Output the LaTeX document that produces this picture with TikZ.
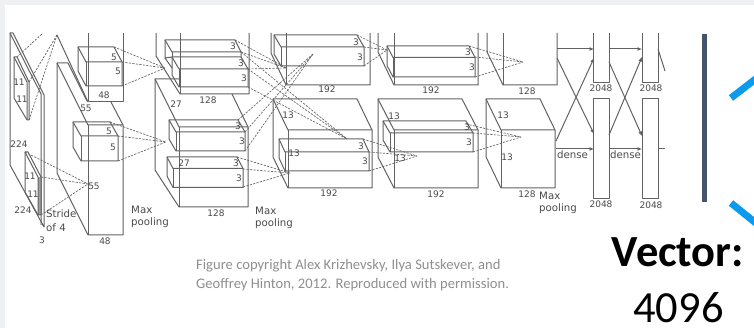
\documentclass[tikz,border=0pt]{standalone}
\usepackage{fontspec}
\setmainfont{Carlito}
\newfontfamily\labfont{DejaVu Sans}
\usetikzlibrary{arrows.meta}
\definecolor{edgegray}{HTML}{626262}
\definecolor{labgray}{HTML}{4A4A4A}
\definecolor{capgray}{HTML}{8F8F8F}
\definecolor{barnavy}{HTML}{44546A}
\definecolor{rayblue}{HTML}{0A9BEF}
\definecolor{pagegray}{HTML}{EEF0F2}
\tikzset{
  edge/.style={draw=edgegray,line width=1pt,line join=round},
  rays/.style={draw=edgegray,line width=0.65pt,dash pattern=on 2.2pt off 1.3pt},
  flow/.style={draw=edgegray,line width=1pt,-{Latex[length=4.5pt,width=4pt]}},
  lab/.style={font=\labfont\fontsize{9}{10}\selectfont,text=labgray,inner sep=0pt},
  word/.style={font=\labfont\fontsize{10.2}{12}\selectfont,text=labgray,inner sep=0pt,anchor=west},
  caption/.style={font=\fontsize{14.6}{16}\selectfont,text=capgray,inner sep=0pt,anchor=west}
}
% back top-left corner, depth offset, width, height
\newcommand{\cuboid}[6]{
  \draw[edge] (#1,#2) -- ++(#5,0) -- ++(#3,#4) -- ++(0,#6) -- ++(-#5,0) -- ++(-#3,-#4) -- cycle;
  \draw[edge] (#1,#2) -- ++(#3,#4) -- ++(#5,0);
  \draw[edge] (#1,#2) ++(#3,#4) -- ++(0,#6);
}
\begin{document}
\begin{tikzpicture}[x=1pt,y=-1pt]
\useasboundingbox (0,0) rectangle (754,328);
\fill[pagegray] (0,0) rectangle (754,328);
\fill[white] (5,5) rectangle (754,328);

% input
\draw[edge] (10,33) -- (10,165) -- (44,227) -- (44,95) -- (13,33) -- cycle;
\draw[edge] (10,33) -- (41,94) -- (41,225);
\draw[edge] (14,57) -- (14,98) -- (27,120) -- (29,120) -- (29,82) -- (17,57) -- cycle;
\draw[edge] (14,57) -- (27,82) -- (27,120);
\fill[edgegray!60] (38,177) rectangle (41,215);
\draw[edge] (25,152) -- (25,192) -- (38,215) -- (41,215) -- (41,177) -- (28,152) -- cycle;
\draw[edge] (25,152) -- (38,177) -- (38,215);

% second layer
\draw[edge] (88,33) -- (88,102) -- (123,102) -- (123,33);
\draw[edge] (57,35) -- (88,102);
\draw[edge] (68,63) -- (57,63) -- (57,173) -- (88,235) -- (123,235) -- (123,125) -- (111,102);
\draw[edge] (68,63) -- (87,101);
\draw[edge] (57,63) -- (88,125) -- (123,125);
\draw[edge] (88,125) -- (88,235);
\cuboid{78}{47}{8}{15}{36}{24}
\cuboid{73}{122}{8}{14}{37}{25}

% third layer
\draw[edge] (156,33) -- (156,56) -- (180,94) -- (249,94) -- (249,33);
\draw[edge] (180,33) -- (180,94);
\draw[edge] (180,79) -- (155,79) -- (155,170) -- (179,207) -- (248,207) -- (248,127) -- (232,94);
\draw[edge] (155,79) -- (179,127) -- (248,127);
\draw[edge] (179,127) -- (179,207);
\draw[edge] (172,57) -- (165,58) -- (165,40) -- (235,40) -- (241,52) -- (241,57);
\draw[edge] (165,40) -- (172,52) -- (241,52);
\draw[edge] (172,52) -- (172,57);
\draw[edge] (165,58) -- (172,68);
\cuboid{172}{57}{7}{12}{69}{18}
\cuboid{169}{120}{7}{12}{69}{19}
\cuboid{167}{157}{6}{11.5}{70}{19}

% fourth layer
\draw[edge] (271,33) -- (271,53) -- (286,85) -- (370,85) -- (370,33);
\draw[edge] (286,33) -- (286,85);
\cuboid{274}{35}{7}{12}{83}{19}
\cuboid{273}{99}{15}{31}{84}{58}
\cuboid{279}{139}{6}{13}{84}{19}

% fifth layer
\draw[edge] (378,33) -- (378,52) -- (394,85) -- (478,85) -- (478,33);
\draw[edge] (394,33) -- (394,85);
\cuboid{387}{46}{6}{11.5}{82}{19.5}
\cuboid{378}{99}{16}{31}{84}{58}
\cuboid{383}{121}{7}{12}{83}{19}

% sixth layer
\draw[edge] (487,33) -- (487,52) -- (503,85) -- (557,85) -- (557,33);
\draw[edge] (503,33) -- (503,85);
\cuboid{486}{99}{15}{31}{54}{58}

% dense layers
\draw[edge] (593,33) -- (593,83) -- (609,83) -- (609,33);
\draw[edge] (642,33) -- (642,83) -- (658,83) -- (658,33);
\draw[edge] (593,99) rectangle (609,199);
\draw[edge] (642,99) rectangle (658,199);

% kernels
\coordinate (tipa) at (57,35);
\coordinate (tipb) at (88,184);
\coordinate (tipc) at (165,68);
\coordinate (tipd) at (166,142);
\coordinate (tipe) at (286,68);
\coordinate (tipf) at (347,139);
\coordinate (tipg) at (313,54);
\coordinate (tiph) at (290,173);
\coordinate (tipi) at (387,50);
\coordinate (tipj) at (417,156);
\coordinate (tipk) at (523,62);
\coordinate (tipl) at (521,137);
\draw[rays] (17,57) -- (43,33);
\foreach \x/\y in {29/82,29/120} \draw[rays] (\x,\y) -- (tipa);
\foreach \x/\y in {25/152,41/177,41/215} \draw[rays] (\x,\y) -- (tipb);
\foreach \x/\y in {114/47,122/62,122/86} \draw[rays] (\x,\y) -- (tipc);
\foreach \x/\y in {110/122,118/136,118/161} \draw[rays] (\x,\y) -- (tipd);
\foreach \x/\y in {235/40,241/52,248/69} \draw[rays] (\x,\y) -- (tipe);
\foreach \x/\y in {241/52,248/69,248/87} \draw[rays] (\x,\y) -- (tipf);
\foreach \x/\y in {238/120,245/132,245/151} \draw[rays] (\x,\y) -- (tipg);
\foreach \x/\y in {237/157,243/169,243/187} \draw[rays] (\x,\y) -- (tiph);
\foreach \x/\y in {357/35,364/47,364/66} \draw[rays] (\x,\y) -- (tipi);
\foreach \x/\y in {363/139,369/152,369/171} \draw[rays] (\x,\y) -- (tipj);
\foreach \x/\y in {469/46,475/57,475/77} \draw[rays] (\x,\y) -- (tipk);
\foreach \x/\y in {466/124,473/133,473/152} \draw[rays] (\x,\y) -- (tipl);

% arrows between the dense layers
\coordinate (upa) at (557,49);
\coordinate (upb) at (594,49);
\coordinate (upc) at (609,49);
\coordinate (upd) at (642,49);
\coordinate (loa) at (556,149);
\coordinate (lob) at (594,149);
\coordinate (loc) at (609,149);
\coordinate (lod) at (642,149);
\coordinate (outa) at (658,49);
\coordinate (outb) at (665,71);
\coordinate (outc) at (658,149);
\coordinate (outd) at (665,149);
\draw[flow] (upa) -- (upb);
\draw[flow] (557,58) -- (594,134);
\draw[flow] (556,141) -- (594,58);
\draw[flow] (loa) -- (lob);
\draw[flow] (upc) -- (upd);
\draw[flow] (609,62) -- (642,136);
\draw[flow] (609,135) -- (642,57);
\draw[flow] (loc) -- (lod);
\draw[edge] (outa) -- (outb);
\draw[edge] (outc) -- (outd);

% sizes
\foreach \x/\y/\t [count=\i] in {
  19/82/11,22/99/11,19/144/224,30/176/11,33/194/11,23/210/224,42/240/3,
  114/57/5,118/71/5,104/95/48,86/108/55,109/131/5,113/147/5,94/186/55,105/241/48,
  233/46/3,241/63/3,244/78/3,208/100/128,176/104/27,238/126/3,242/141/3,
  184/163/27,236/163/3,239/178/3,216/213/128,
  356/42/3,360/57/3,327/89/192,288/115/13,361/146/3,294/153/13,365/161/3,329/193/192,
  468/52/3,472/67/3,431/90/192,394/116/13,467/127/3,400/158/13,469/142/3,436/194/192,
  527/91/128,503/115/13,507/157/13,527/194/128,
  601/88/2048,651/88/2048,601/204/2048,651/205/2048}
  \node[lab] (size\i) at (\x,\y) {\t};

\node[word] (stride) at (46,214) {Stride};
\node[word] (strideof) at (46,228) {of 4};
\node[word] (maxa) at (131,210) {Max};
\node[word] (poola) at (131,223) {pooling};
\node[word] (maxb) at (255,211) {Max};
\node[word] (poolb) at (255,224) {pooling};
\node[word] (maxc) at (539,196) {Max};
\node[word] (poolc) at (539,209) {pooling};
\node[word] (densea) at (557,155) {dense};
\node[word] (denseb) at (610,155) {dense};

% right side
\fill[barnavy] (702,34) rectangle (707,202);
\draw[rayblue,line width=7pt] (731,98) -- (762,74);
\draw[rayblue,line width=7pt] (731,203) -- (762,228);

\node[caption] (capa) at (196,266) {Figure copyright Alex Krizhevsky, Ilya Sutskever, and};
\node[caption] (capb) at (196,285) {Geoffrey Hinton, 2012. Reproduced with permission.};
\node[font=\bfseries\fontsize{44.5}{48}\selectfont,inner sep=0pt,anchor=base] (vectorword) at (678,267) {Vector:};
\node[font=\fontsize{44.5}{48}\selectfont,inner sep=0pt,anchor=base] (vectorsize) at (678.5,322) {4096};
\end{tikzpicture}
\end{document}
